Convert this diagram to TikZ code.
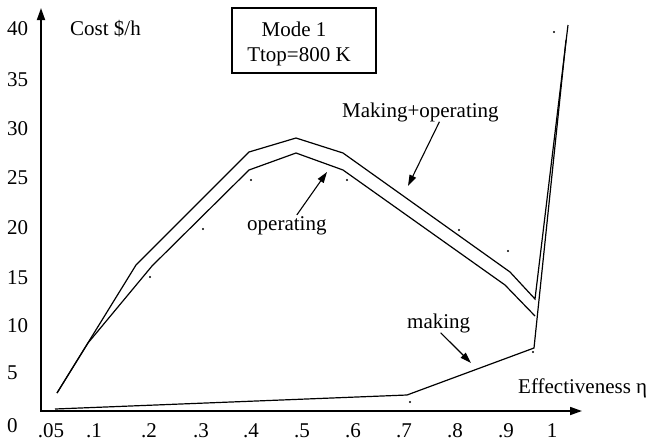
\documentclass[tikz,border=0pt]{standalone}
\usepackage{fontspec}
\setmainfont{Liberation Serif}
\usetikzlibrary{arrows.meta}
\begin{document}
\begin{tikzpicture}[x=1pt,y=-1pt,font=\fontsize{21}{25}\selectfont]
\tikzset{
  curve/.style={line width=1.2pt,line join=miter},
  axisline/.style={line width=1.7pt,
    {Triangle[length=12pt,width=8pt]}-{Triangle[length=12pt,width=8pt]}},
  pointer/.style={line width=1.1pt,-{Triangle[length=11pt,width=7pt]}},
  lbl/.style={inner sep=0pt,anchor=base west},
  tick/.style={inner sep=0pt,anchor=base},
  frame/.style={draw,line width=1.4pt,minimum width=144pt,minimum height=65pt,inner sep=0pt},
}
\useasboundingbox (0,0) rectangle (650,445);

% axes
\coordinate (ytop) at (41,8);
\coordinate (origin) at (41,411);
\coordinate (xend) at (582,411);
\draw[axisline] (ytop) -- (origin) -- (xend);

% value labels on the vertical axis
\node[lbl] (v40) at (7,35)  {40};
\node[lbl] (v35) at (7,86)  {35};
\node[lbl] (v30) at (7,135) {30};
\node[lbl] (v25) at (7,184) {25};
\node[lbl] (v20) at (7,234) {20};
\node[lbl] (v15) at (7,284) {15};
\node[lbl] (v10) at (7,332) {10};
\node[lbl] (v5)  at (7,379) {5};
\node[lbl] (v0)  at (7,432) {0};

% effectiveness labels
\node[tick] (e05) at (51,437)  {.05};
\node[tick] (e1)  at (94,437)  {.1};
\node[tick] (e2)  at (149,437) {.2};
\node[tick] (e3)  at (201,437) {.3};
\node[tick] (e4)  at (251,437) {.4};
\node[tick] (e5)  at (302,437) {.5};
\node[tick] (e6)  at (353,437) {.6};
\node[tick] (e7)  at (404,437) {.7};
\node[tick] (e8)  at (455,437) {.8};
\node[tick] (e9)  at (506,437) {.9};
\node[tick] (e10) at (552,437) {1};

% axis titles
\node[lbl] (ylabel) at (70,35) {Cost \$/h};
\node[lbl] (xlabel) at (518,393) {Effectiveness η};

% mode box
\node[frame] (mode) at (304,40.5) {};
\node[tick] (mode1) at (294,36) {Mode 1};
\node[tick] (ttop) at (299,61) {Ttop=800 K};

% cost curves
\draw[curve] (57,393) -- (136,265) -- (249,152) -- (296,138) -- (343,153)
  -- (510,272) -- (535,299) -- (568,25);
\draw[curve] (57,393) -- (88,343) -- (152,266) -- (249,170) -- (296,153)
  -- (343,170) -- (505,285) -- (535,316);
\draw[curve] (55,409) -- (407,395) -- (534,348) -- (566,40);

% sample points
\foreach \p in {(150,277),(203,229),(251,180),(347,180),(459,230),
                (508,251),(533,352),(410,402),(554,32)}
  \fill \p circle (1.1pt);

% curve labels with pointers
\node[lbl] (mo) at (342,117) {Making+operating};
\coordinate (moTip) at (408,186);
\draw[pointer] ([xshift=19pt]mo.south) -- (moTip);

\node[lbl] (op) at (247,230) {operating};
\coordinate (opTip) at (327,172);
\draw[pointer] ([xshift=10pt,yshift=1pt]op.north) -- (opTip);

\node[lbl] (mk) at (407,328) {making};
\coordinate (mkTip) at (471,363);
\draw[pointer] ([xshift=2pt]mk.south) -- (mkTip);
\end{tikzpicture}
\end{document}
